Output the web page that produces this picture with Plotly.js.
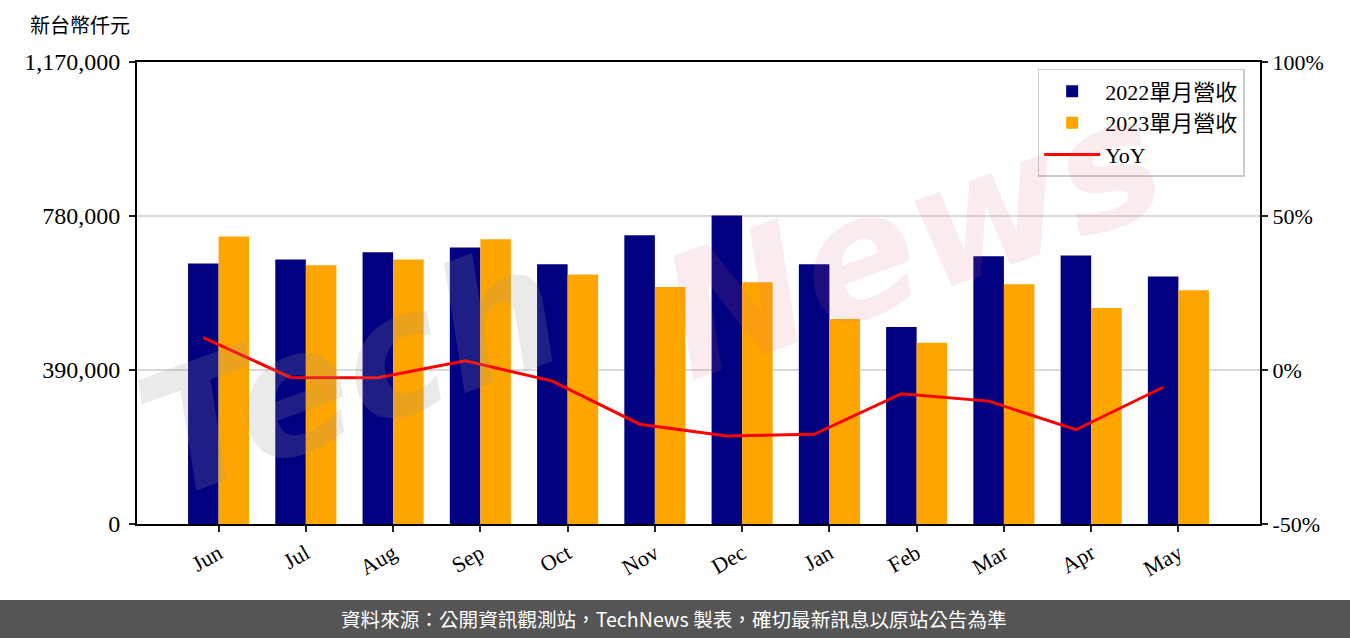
<!DOCTYPE html>
<html><head><meta charset="utf-8">
<script src="https://cdn.plot.ly/plotly-3.0.1.min.js"></script>
<style>html,body{margin:0;padding:0;background:#fff;}#chart{width:1350px;height:638px;}</style>
</head><body><div id="chart"></div>
<script>
const months = ["Jun","Jul","Aug","Sep","Oct","Nov","Dec","Jan","Feb","Mar","Apr","May"];
const rev2022 = [660000,670000,688000,700000,658000,731000,781000,658000,499000,678000,680000,627000];
const rev2023 = [728000,655000,670000,721000,632000,600000,612000,519000,459000,607000,547000,592000];
const yoy = [10.5,-2.4,-2.5,3.0,-3.6,-17.6,-21.4,-20.9,-7.7,-10.1,-19.4,-5.6];
const leftTicks = [0,390000,780000,1170000];
const leftTickText = ["0","390,000","780,000","1,170,000"];
const rightTicks = [-50,0,50,100];
const rightTickText = ["-50%","0%","50%","100%"];

const idx = months.map((m,i)=>i);
const serif = "Liberation Serif, Noto Sans CJK TC, serif";
const cjk = "Noto Sans CJK TC, sans-serif";

const traces = [
  {type:'bar', name:'2022單月營收', x:idx, y:rev2022, width:0.35, offset:-0.35,
   marker:{color:'#000080'}, hoverinfo:'y'},
  {type:'bar', name:'2023單月營收', x:idx, y:rev2023, width:0.35, offset:0,
   marker:{color:'#FFA500'}, hoverinfo:'y'},
  {type:'scatter', mode:'lines', name:'YoY', x:idx.map(i=>i-0.175), y:yoy, yaxis:'y2',
   line:{color:'#FF0000', width:3}}
];

const layout = {
  width:1350, height:638,
  margin:{l:137, r:90, t:62, b:114},
  paper_bgcolor:'#ffffff', plot_bgcolor:'#ffffff',
  showlegend:true,
  font:{family:serif, size:20, color:'#000'},
  xaxis:{range:[-0.935,11.935], tickvals:idx, ticktext:months, tickangle:-30,
    showline:true, linecolor:'#000', linewidth:2, mirror:true,
    ticks:'outside', ticklen:6, tickwidth:2, tickcolor:'#222',
    showgrid:false, zeroline:false, tickfont:{family:serif, size:22}},
  yaxis:{range:[0,1170000], tickvals:leftTicks, ticktext:leftTickText,
    showline:true, linecolor:'#000', linewidth:2,
    ticks:'outside', ticklen:6, tickwidth:2, tickcolor:'#222', ticklabelstandoff:4,
    showgrid:true, gridcolor:'#d9d9d9', gridwidth:1.5, zeroline:false,
    tickfont:{family:serif, size:24}},
  yaxis2:{range:[-50,100], overlaying:'y', side:'right', tickvals:rightTicks, ticktext:rightTickText,
    showline:true, linecolor:'#000', linewidth:2,
    ticks:'outside', ticklen:6, tickwidth:2, tickcolor:'#222',
    showgrid:false, zeroline:false, tickfont:{family:serif, size:22}},
  legend:{x:0.802, y:0.985, xanchor:'left', yanchor:'top',
    bgcolor:'rgba(255,255,255,0.85)', bordercolor:'#cccccc', borderwidth:1.5,
    font:{family:serif, size:22}, itemwidth:56, tracegroupgap:2},
  shapes:[
    {type:'rect', xref:'paper', yref:'paper', x0:-0.13, x1:1.09, y0:-0.2468, y1:-0.1645,
     fillcolor:'#555555', line:{width:0}, layer:'above'}
  ],
  annotations:[
    {xref:'paper', yref:'paper', x:-0.097, y:1.045, xanchor:'left', yanchor:'bottom',
     text:'新台幣仟元', showarrow:false, font:{family:cjk, size:20, color:'#000'}},
    {xref:'paper', yref:'paper', x:0.478, y:-0.2056, xanchor:'center', yanchor:'middle',
     text:'資料來源：公開資訊觀測站，TechNews 製表，確切最新訊息以原站公告為準', showarrow:false,
     font:{family:cjk, size:19.6, color:'#ffffff'}},
    {xref:'paper', yref:'paper', x:0.19, y:0.33, xanchor:'center', yanchor:'middle',
     text:'<i><b>Tech</b></i>', showarrow:false, textangle:-20,
     font:{family:'DejaVu Sans, sans-serif', size:170, color:'rgba(150,150,150,0.2)'}},
    {xref:'paper', yref:'paper', x:0.69, y:0.62, xanchor:'center', yanchor:'middle',
     text:'<i><b>News</b></i>', showarrow:false, textangle:-20,
     font:{family:'DejaVu Sans, sans-serif', size:170, color:'rgba(220,110,120,0.13)'}}
  ]
};

Plotly.newPlot('chart', traces, layout, {displayModeBar:false, staticPlot:true});
</script>
</body></html>
